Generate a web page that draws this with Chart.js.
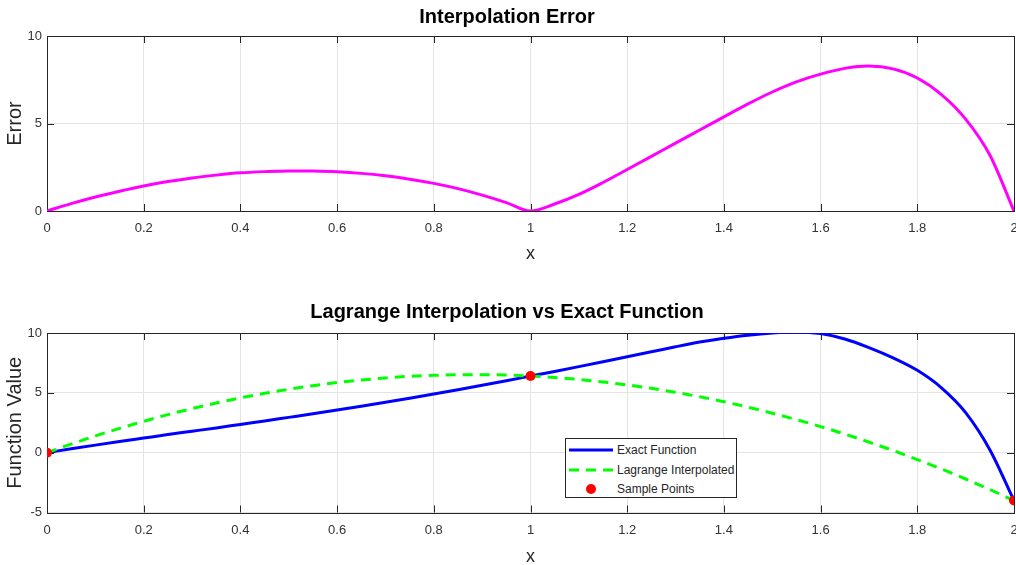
<!DOCTYPE html>
<html>
<head>
<meta charset="utf-8">
<script src="https://cdn.jsdelivr.net/npm/chart.js@4/dist/chart.umd.min.js"></script>
<style>
  html, body { margin: 0; padding: 0; background: #fff; overflow: hidden; }
  #wrap { position: relative; width: 1016px; height: 565px; overflow: hidden; }
  .pane { position: absolute; left: 0; width: 1030px; }
  #paneTop { top: 0; height: 282px; }
  #paneBot { top: 282px; height: 300px; }
  #legend { position: absolute; left: 565px; top: 438px; width: 172px; height: 60px;
    box-sizing: border-box; border: 1px solid #262626; background: #fff;
    font: 12px 'Liberation Sans', Arial, sans-serif; color: #262626; }
  #legend .row { position: absolute; left: 0; height: 14px; width: 170px; }
  #legend svg { position: absolute; left: 3px; top: 0; }
  #legend span { position: absolute; left: 51px; top: 0; line-height: 14px; white-space: nowrap; }
</style>
</head>
<body>
<div id="wrap">
  <div class="pane" id="paneTop"><canvas id="chart-err"></canvas></div>
  <div class="pane" id="paneBot"><canvas id="chart-fit"></canvas></div>
  <div id="legend"></div>
</div>
<script>
// values
const X_VALUES = [0, 0.05, 0.1, 0.15, 0.2, 0.25, 0.3, 0.35, 0.4, 0.45, 0.5, 0.55, 0.6, 0.65, 0.7, 0.75, 0.8, 0.85, 0.9, 0.95,
  1, 1.05, 1.1, 1.15, 1.2, 1.25, 1.3, 1.35, 1.4, 1.45, 1.5, 1.55, 1.6, 1.65, 1.7, 1.75, 1.8, 1.85, 1.9, 1.95, 2];
const ERROR_VALUES = [0, 0.42, 0.80, 1.13, 1.43, 1.68, 1.89, 2.05, 2.18, 2.25, 2.29, 2.28, 2.24, 2.15, 2.01, 1.82, 1.58, 1.28, 0.91, 0.48,
  0, 0.40, 0.95, 1.63, 2.37, 3.12, 3.88, 4.63, 5.38, 6.12, 6.80, 7.38, 7.82, 8.15, 8.28, 8.12, 7.60, 6.65, 5.25, 3.20, 0];
const EXACT_VALUES = [0, 0.32, 0.63, 0.93, 1.22, 1.51, 1.79, 2.07, 2.36, 2.65, 2.95, 3.25, 3.56, 3.88, 4.21, 4.55, 4.90, 5.26, 5.63, 6.01,
  6.40, 6.79, 7.19, 7.60, 8.02, 8.43, 8.85, 9.24, 9.56, 9.82, 10.00, 10.08, 9.95, 9.50, 8.78, 7.92, 6.88, 5.42, 3.35, 0.25, -4.0];
const LAGRANGE_VALUES = [0, 0.72, 1.40, 2.03, 2.62, 3.18, 3.68, 4.15, 4.58, 4.96, 5.30, 5.60, 5.86, 6.07, 6.24, 6.38, 6.46, 6.51, 6.52, 6.48,
  6.40, 6.28, 6.12, 5.91, 5.66, 5.38, 5.04, 4.67, 4.26, 3.80, 3.30, 2.76, 2.18, 1.55, 0.88, 0.18, -0.58, -1.37, -2.20, -3.08, -4.00];
const SAMPLE_X = [0, 1, 2];
const SAMPLE_Y = [0, 6.4, -4];

const X_TICKS = [0, 0.2, 0.4, 0.6, 0.8, 1, 1.2, 1.4, 1.6, 1.8, 2];
const Y_TICKS_ERR = [0, 5, 10];
const Y_TICKS_FIT = [-5, 0, 5, 10];
const SERIES_LABELS = ['Exact Function', 'Lagrange Interpolated', 'Sample Points'];

Chart.defaults.font.family = "'Liberation Sans', Arial, sans-serif";
Chart.defaults.color = '#333';

const pts = (xs, ys) => xs.map((x, i) => ({ x, y: ys[i] }));

// MATLAB-like box with inward ticks
const boxTicks = {
  id: 'boxTicks',
  beforeDatasetsDraw(chart) {
    const { ctx, chartArea: a, scales: { x, y } } = chart;
    ctx.save();
    ctx.strokeStyle = '#262626';
    ctx.lineWidth = 1;
    ctx.beginPath();
    x.ticks.forEach(t => {
      const px = Math.round(x.getPixelForValue(t.value)) + 0.5;
      ctx.moveTo(px, a.bottom); ctx.lineTo(px, a.bottom - 7);
      ctx.moveTo(px, a.top); ctx.lineTo(px, a.top + 7);
    });
    y.ticks.forEach(t => {
      const py = Math.round(y.getPixelForValue(t.value)) + 0.5;
      ctx.moveTo(a.left, py); ctx.lineTo(a.left + 7, py);
      ctx.moveTo(a.right, py); ctx.lineTo(a.right - 7, py);
    });
    ctx.stroke();
    ctx.strokeRect(Math.round(a.left) + 0.5, Math.round(a.top) + 0.5, Math.round(a.width), Math.round(a.height));
    ctx.restore();
  }
};

function xScale(axisHeight, titlePadBottom) {
  return {
    type: 'linear', min: 0, max: 2,
    afterBuildTicks: s => { s.ticks = X_TICKS.map(v => ({ value: v })); },
    afterFit: s => { s.height = axisHeight; },
    ticks: { callback: v => String(v), padding: 10, maxRotation: 0, autoSkip: false, font: { size: 13 }, color: '#333' },
    grid: { color: '#e4e4e4', drawTicks: false },
    border: { display: false },
    title: { display: true, text: 'x', font: { size: 18 }, color: '#262626', padding: { top: 0, bottom: titlePadBottom } },
  };
}

function yScale(min, max, ticks, title) {
  return {
    min, max,
    afterBuildTicks: s => { s.ticks = ticks.map(v => ({ value: v })); },
    afterFit: s => { s.width = 47; },
    ticks: { padding: 5, font: { size: 13 }, color: '#333' },
    grid: { color: '#e4e4e4', drawTicks: false },
    border: { display: false },
    title: { display: true, text: title, font: { size: 20 }, color: '#262626', padding: { top: 3, bottom: 0 } },
  };
}

function titleOpts(text, top, bottom) {
  return { display: true, text, color: '#000', font: { size: 20, weight: 'bold' }, padding: { top, bottom } };
}

new Chart(document.getElementById('chart-err').getContext('2d'), {
  type: 'line',
  data: {
    datasets: [{
      label: 'Error',
      data: pts(X_VALUES, ERROR_VALUES),
      borderColor: '#ff00ff', borderWidth: 3, pointRadius: 0,
      cubicInterpolationMode: 'monotone',
    }]
  },
  options: {
    responsive: true, maintainAspectRatio: false, animation: false,
    layout: { padding: { left: 0, right: 16, top: 0, bottom: 0 } },
    plugins: { legend: { display: false }, tooltip: { enabled: false },
      title: titleOpts('Interpolation Error', 5, 7) },
    scales: { x: xScale(71, 17), y: yScale(0, 10, Y_TICKS_ERR, 'Error') },
  },
  plugins: [boxTicks],
});

const fitChart = new Chart(document.getElementById('chart-fit').getContext('2d'), {
  type: 'line',
  data: {
    datasets: [{
      label: SERIES_LABELS[0],
      data: pts(X_VALUES, EXACT_VALUES),
      borderColor: '#0000ff', borderWidth: 3, pointRadius: 0,
      cubicInterpolationMode: 'monotone', order: 3,
    }, {
      label: SERIES_LABELS[1],
      data: pts(X_VALUES, LAGRANGE_VALUES),
      borderColor: '#00ff00', borderWidth: 3, borderDash: [10, 7], pointRadius: 0,
      cubicInterpolationMode: 'monotone', order: 2,
    }, {
      label: SERIES_LABELS[2],
      data: pts(SAMPLE_X, SAMPLE_Y),
      showLine: false, pointRadius: 5, pointBackgroundColor: '#ff0000', pointBorderColor: '#ff0000',
      pointBorderWidth: 0, order: 1,
    }]
  },
  options: {
    responsive: true, maintainAspectRatio: false, animation: false,
    layout: { padding: { left: 0, right: 16, top: 0, bottom: 0 } },
    plugins: { legend: { display: false }, tooltip: { enabled: false },
      title: titleOpts('Lagrange Interpolation vs Exact Function', 18, 9) },
    scales: { x: xScale(69.5, 14.5), y: yScale(-5, 10, Y_TICKS_FIT, 'Function Value') },
  },
  plugins: [boxTicks],
});

// legend box inside the lower axes
const legend = document.getElementById('legend');
const rowTops = [4, 23.5, 42.5];
fitChart.data.datasets.forEach((ds, i) => {
  const row = document.createElement('div');
  row.className = 'row';
  row.style.top = rowTops[i] + 'px';
  let glyph;
  if (ds.showLine === false) {
    glyph = `<circle cx="22" cy="7" r="5" fill="${ds.pointBackgroundColor}"/>`;
  } else {
    const dash = ds.borderDash ? `stroke-dasharray="${ds.borderDash.join(' ')}"` : '';
    glyph = `<line x1="0" y1="7" x2="44" y2="7" stroke="${ds.borderColor}" stroke-width="3" ${dash}/>`;
  }
  row.innerHTML = `<svg width="44" height="14">${glyph}</svg><span>${ds.label}</span>`;
  legend.appendChild(row);
});
</script>
</body>
</html>
